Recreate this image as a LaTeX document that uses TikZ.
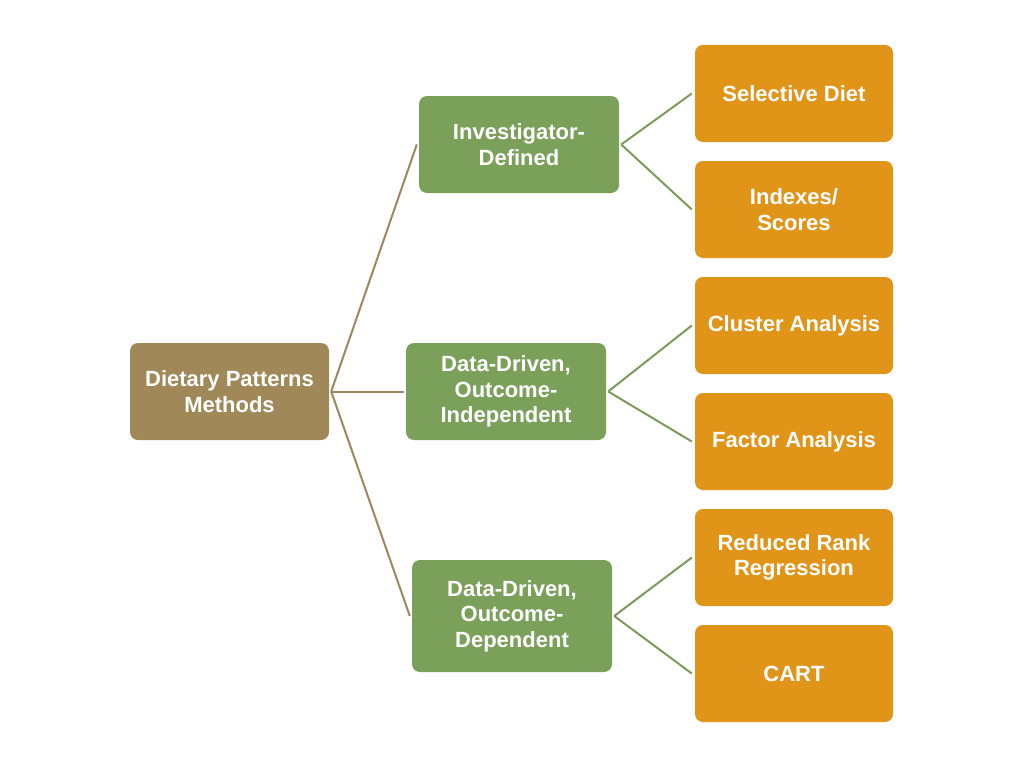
\documentclass[tikz,border=0pt]{standalone}
\usepackage{fontspec}
\setmainfont{Liberation Sans}
\usepackage{tikz}
\usetikzlibrary{positioning,shapes}
\definecolor{rootbrown}{HTML}{A08858}
\definecolor{midgreen}{HTML}{7AA05A}
\definecolor{leaforange}{HTML}{E09418}
\definecolor{brownline}{HTML}{9A8860}
\definecolor{greenline}{HTML}{7D9A5A}
\tikzstyle{box}=[rectangle, rounded corners=8pt, text=white, align=center, font=\fontsize{22}{25.5}\selectfont\bfseries, inner sep=0pt]
\tikzstyle{rootbox}=[box, fill=rootbrown, minimum width=199pt, minimum height=97pt]
\tikzstyle{midbox}=[box, fill=midgreen, minimum width=200pt, minimum height=97pt]
\tikzstyle{leafbox}=[box, fill=leaforange, minimum width=198pt, minimum height=97pt]
\tikzstyle{bline}=[-, brownline, line width=2pt]
\tikzstyle{gline}=[-, greenline, line width=2pt]

\begin{document}
\begin{tikzpicture}[x=1pt, y=-1pt]
        \useasboundingbox (0,0) rectangle (1024,768);
        \node[rootbox] (root) at (229.5,391.5) {Dietary Patterns\\Methods};
        \node[midbox] (inv) at (519,144.5) {Investigator-\\Defined};
        \node[midbox] (indep) at (506,391.5) {Data-Driven,\\Outcome-\\Independent};
        \node[midbox, minimum height=112pt] (dep) at (512,616) {Data-Driven,\\Outcome-\\Dependent};
        \node[leafbox] (sel) at (794,93.5) {Selective Diet};
        \node[leafbox] (idx) at (794,209.5) {Indexes/\\Scores};
        \node[leafbox] (clu) at (794,325.5) {Cluster Analysis};
        \node[leafbox] (fac) at (794,441.5) {Factor Analysis};
        \node[leafbox] (rrr) at (794,557.5) {Reduced Rank\\Regression};
        \node[leafbox] (cart) at (794,673.5) {CART};

        \draw[bline] ([xshift=2pt]root.east) -- ([xshift=-2pt]inv.west);
        \draw[bline] ([xshift=2pt]root.east) -- ([xshift=-2pt]indep.west);
        \draw[bline] ([xshift=2pt]root.east) -- ([xshift=-2pt]dep.west);
        \draw[gline] ([xshift=2pt]inv.east) -- ([xshift=-3pt]sel.west);
        \draw[gline] ([xshift=2pt]inv.east) -- ([xshift=-3pt]idx.west);
        \draw[gline] ([xshift=2pt]indep.east) -- ([xshift=-3pt]clu.west);
        \draw[gline] ([xshift=2pt]indep.east) -- ([xshift=-3pt]fac.west);
        \draw[gline] ([xshift=2pt]dep.east) -- ([xshift=-3pt]rrr.west);
        \draw[gline] ([xshift=2pt]dep.east) -- ([xshift=-3pt]cart.west);
    \end{tikzpicture}
\end{document}
